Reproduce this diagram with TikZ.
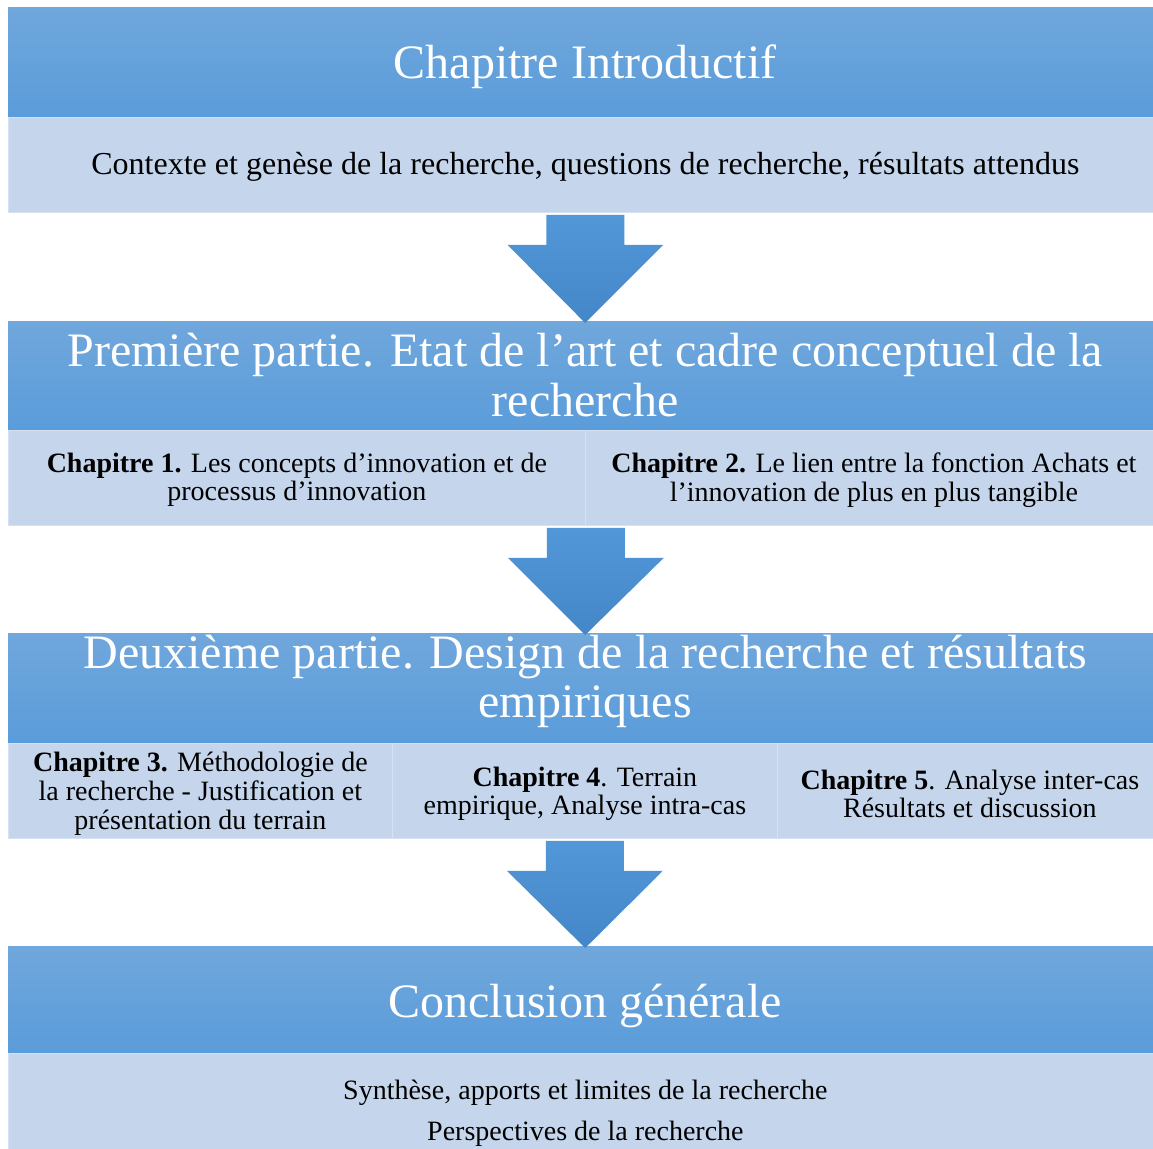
\documentclass[tikz,border=0pt]{standalone}
\usepackage{fontspec}
\setmainfont{Liberation Serif}
\usetikzlibrary{calc}
\definecolor{hdtop}{RGB}{112,167,220}
\definecolor{hdbot}{RGB}{90,156,218}
\definecolor{bodyc}{RGB}{197,214,236}
\definecolor{cellline}{RGB}{214,226,242}
\definecolor{artop}{RGB}{82,151,215}
\definecolor{arbot}{RGB}{68,135,201}
\newcommand\blockarr[2]{%
  \path[blockarrow] ($(#1)+(-39,2)$) -- ($(#1)+(39,2)$) -- ($(#1)+(39,32)$) -- ($(#1)+(78,32)$)
    -- ($(#2)+(0,2)$) -- ($(#1)+(-78,32)$) -- ($(#1)+(-39,32)$) -- cycle;}
\begin{document}
\begin{tikzpicture}[x=1pt,y=-1pt,
  header/.style={inner sep=0pt, minimum width=1154pt, minimum height=110pt,
    top color=hdtop, bottom color=hdbot, anchor=north west},
  htext/.style={inner sep=0pt, text=white, font=\fontsize{48}{49.5}\selectfont, align=center},
  cell/.style={inner sep=0pt, fill=bodyc, draw=cellline, line width=0.8pt,
    anchor=north west, minimum height=95pt},
  ctext/.style={inner sep=0pt, font=\fontsize{28}{28.7}\selectfont, align=center},
  blockarrow/.style={top color=artop, bottom color=arbot, draw=none}]
\useasboundingbox (0,0) rectangle (1153,1148);
\fill[white] (0,0) rectangle (1153,1148);
% block 1
\node[header] (h1) at (8,7) {};
\node[htext] (t1) at ($(h1.center)+(0,5)$) {Chapitre Introductif};
\node[cell, minimum width=1154pt] (c1) at (8,117) {};
\node[ctext, font=\fontsize{32}{33}\selectfont] (d1) at ($(c1.center)+(0,2)$) {Contexte et genèse de la recherche, questions de recherche, résultats attendus};
% block 2
\node[header] (h2) at (8,321) {};
\node[htext] (t2) at ($(h2.center)+(0,-1)$) {Première partie. Etat de l’art et cadre conceptuel de la\\recherche};
\node[cell, minimum width=577pt] (c2a) at (8,430) {};
\node[cell, minimum width=577pt] (c2b) at (585,430) {};
\node[ctext] (d2a) at ($(c2a.center)+(0,2)$) {\textbf{Chapitre 1.} Les concepts d’innovation et de\\processus d’innovation};
\node[ctext] (d2b) at ($(c2b.center)+(0,2)$) {\textbf{Chapitre 2.} Le lien entre la fonction Achats et\\l’innovation de plus en plus tangible};
% block 3
\node[header] (h3) at (8,633) {};
\node[htext] (t3) at ($(h3.center)+(0,-7)$) {Deuxième partie. Design de la recherche et résultats\\empiriques};
\node[cell, minimum width=384pt] (c3a) at (8,743) {};
\node[cell, minimum width=385pt] (c3b) at (392,743) {};
\node[cell, minimum width=385pt] (c3c) at (777,743) {};
\node[ctext] (d3a) at ($(c3a.center)+(0,3)$) {\textbf{Chapitre 3.} Méthodologie de\\la recherche - Justification et\\présentation du terrain};
\node[ctext] (d3b) at ($(c3b.center)+(0,3)$) {\textbf{Chapitre 4}. Terrain\\empirique, Analyse intra-cas};
\node[ctext] (d3c) at ($(c3c.center)+(0,3)$) {\textbf{Chapitre 5}. Analyse inter-cas\\Résultats et discussion};
% block 4
\node[header, minimum height=107pt] (h4) at (8,946) {};
\node[htext] (t4) at ($(h4.center)+(0,6)$) {Conclusion générale};
\node[cell, minimum width=1154pt, minimum height=115pt] (c4) at (8,1053) {};
\node[ctext] (d4) at ($(c4.center)+(0,2)$) {Synthèse, apports et limites de la recherche\\[12pt]Perspectives de la recherche};
% arrows
\blockarr{c1.south}{h2.north}
\blockarr{c2a.south east}{h3.north}
\blockarr{c3b.south}{h4.north}
\end{tikzpicture}
\end{document}
